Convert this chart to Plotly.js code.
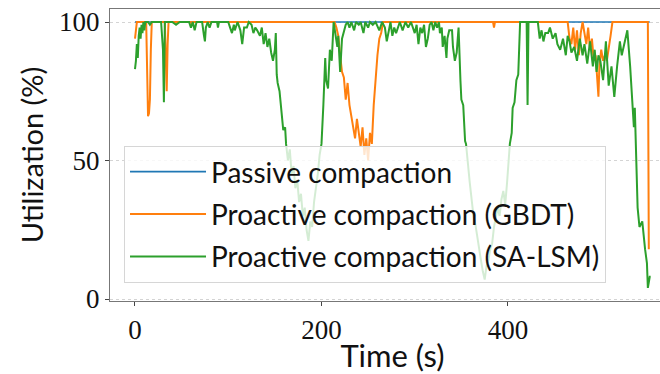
<!DOCTYPE html>
<html>
<head>
<meta charset="utf-8">
<script src="https://cdn.plot.ly/plotly-3.0.1.min.js"></script>
<style>
html, body { margin:0; padding:0; overflow:hidden; background:#fff; }
#chart { width:680px; height:374px; }
</style>
</head>
<body>
<div id="chart"></div>
<script>
// ---- data ----
const seriesNames = ["Passive compaction", "Proactive compaction (GBDT)", "Proactive compaction (SA-LSM)"];

const passiveTime = [0, 100, 200, 300, 400, 500, 552];
const passiveUtil = [100, 100, 100, 100, 100, 100, 100];

const gbdtTime = [0, 2, 12, 13, 14, 15, 16, 17, 18, 32, 33, 34, 35, 36, 60, 61, 62,
  214, 216, 218, 220, 222, 224, 226, 228, 230, 232, 234, 236, 238, 240, 242, 244, 246, 248, 250, 252, 254, 256, 258, 260, 262, 264, 266,
  384, 385, 386, 464, 466, 468, 470, 472, 474, 476, 478, 480, 484, 486, 488, 490, 492, 494, 496, 497, 498, 500, 502, 504, 506, 508, 510, 512,
  550, 551];
const gbdtUtil = [94, 100, 100, 85, 66, 67, 72, 90, 100, 100, 85, 75, 92, 100, 100, 99, 100,
  100, 98, 95, 88, 82, 80, 72, 78, 70, 66, 62, 58, 65, 60, 55, 62, 52, 58, 50, 60, 56, 70, 80, 88, 94, 96, 100,
  100, 98, 100, 100, 94, 92, 98, 90, 97, 88, 96, 100, 92, 98, 90, 94, 86, 88, 80, 73, 84, 90, 86, 88, 86, 90, 95, 100,
  100, 18];

const salsmTime = [0, 1, 2, 3, 4, 5, 6, 7, 8, 9, 10, 11, 14, 16, 18, 28, 30, 31, 32, 40, 44, 48, 58, 60, 62, 64, 66, 72, 74, 75, 76, 78, 80, 82, 88, 89, 90,
  100, 102, 104, 106, 107, 110, 113, 115, 117, 120, 122, 125, 127, 129, 131, 134, 136, 138, 140, 142, 144, 146, 148, 150, 151, 152, 153, 155, 157, 159, 161,
  162, 164, 166, 168, 170, 172, 174, 176, 178, 180, 182, 184, 186, 188, 190, 192, 194, 196, 198, 200, 202, 204, 205, 207, 209, 211, 213, 215, 217, 218, 220,
  222, 224, 226, 228, 230, 232, 235, 237, 240, 242, 245, 247, 250, 252, 255, 258, 262, 265, 268, 270, 272, 274, 276, 278, 280, 282, 284, 287, 290, 293, 296,
  300, 302, 304, 306, 308, 310, 312, 314, 316, 318, 320, 322, 324, 326, 327, 329, 330, 332, 334, 335, 337, 340, 341, 343, 345, 347, 349, 350, 352, 354,
  355, 357, 359, 361, 363, 365, 367, 369, 371, 373, 375, 377, 379, 381, 383, 385, 387, 389, 391, 393, 395, 397, 399, 401, 402, 404, 405, 407, 409, 411, 413,
  420, 421, 422, 432, 434, 436, 438, 440, 443, 445, 448, 451, 453, 456, 459, 462, 464, 466, 468, 471, 474, 477, 480, 482, 485, 488, 491, 493, 495, 497, 499,
  502, 505, 508, 511, 514, 517, 520, 522, 525, 528, 531, 533, 535, 536, 537, 538, 539, 541, 544, 547, 549, 550, 552, 553];
const salsmUtil = [83, 86, 92, 87, 95, 98, 94, 99, 96, 100, 97, 100, 100, 99, 100, 100, 90, 71, 100, 100, 99, 100, 100, 98, 100, 97, 100, 100, 95, 93, 98, 100, 98, 100, 100, 98, 100,
  100, 98, 96, 99, 97, 100, 97, 92, 98, 98, 100, 99, 96, 98, 97, 95, 98, 92, 96, 91, 94, 89, 86, 90, 96, 81, 78, 75, 67, 61, 62,
  56, 50, 54, 45, 48, 40, 43, 35, 38, 30, 33, 25, 21, 28, 26, 35, 40, 45, 52, 56, 70, 87, 79, 76, 90, 86, 100, 96, 91, 95, 82,
  94, 97, 99, 100, 98, 100, 97, 100, 99, 100, 96, 100, 98, 100, 99, 100, 97, 100, 98, 93, 97, 100, 95, 98, 96, 98, 100, 97, 100, 98, 100,
  96, 99, 92, 98, 96, 99, 91, 94, 99, 100, 97, 100, 98, 100, 96, 98, 91, 95, 87, 94, 97, 97, 91, 86, 89, 98, 79, 72, 70, 57,
  56, 48, 42, 36, 30, 27, 22, 18, 14, 10, 7, 12, 14, 18, 20, 26, 30, 33, 30, 36, 39, 34, 42, 50, 56, 60, 69, 71, 79, 81, 100,
  100, 70, 100, 100, 94, 97, 93, 96, 96, 98, 94, 96, 92, 90, 94, 88, 95, 93, 89, 91, 86, 94, 88, 92, 85, 93, 84, 90, 82, 88, 86,
  79, 93, 77, 84, 73, 84, 93, 88, 93, 97, 84, 71, 62, 69, 54, 50, 33, 26, 28, 18, 13, 4, 8, 8];

const xTicks = [0, 200, 400];
const yTicks = [0, 50, 100];

const colors = ["#1f77b4", "#ff7f0e", "#2ca02c"];

const traces = [
  {x: passiveTime, y: passiveUtil, name: seriesNames[0], legendgroup: "a", type: "scatter", mode: "lines", line: {color: colors[0], width: 1.6}},
  {x: gbdtTime, y: gbdtUtil, name: seriesNames[1], legendgroup: "b", type: "scatter", mode: "lines", line: {color: colors[1], width: 2}},
  {x: salsmTime, y: salsmUtil, name: seriesNames[2], legendgroup: "c", type: "scatter", mode: "lines", line: {color: colors[2], width: 2}}
];

const sans = "Lato, 'Open Sans', sans-serif";
const serif = "'Liberation Serif', 'DejaVu Serif', serif";

const layout = {
  width: 680, height: 374,
  margin: {l: 110, r: 5, t: 9, b: 73, pad: 0},
  paper_bgcolor: "#fff", plot_bgcolor: "#fff",
  showlegend: true,
  legend: {
    x: 0.0248, y: 0.531, xanchor: "left", yanchor: "top",
    bgcolor: "rgba(255,255,255,0.8)", bordercolor: "#d6d6d6", borderwidth: 1,
    font: {family: sans, size: 28, color: "#111"},
    tracegroupgap: 3, traceorder: "grouped", itemwidth: 76
  },
  xaxis: {
    range: [-26.8, 579.1], tickvals: xTicks, ticktext: xTicks.map(String),
    ticks: "outside", ticklen: 4, tickwidth: 1, tickcolor: "#444",
    showline: true, mirror: true, linecolor: "#777", linewidth: 1.2,
    showgrid: false, zeroline: false,
    tickfont: {family: serif, size: 27, color: "#111"},
    title: {text: "Time (s)", font: {family: sans, size: 31, color: "#111"}, standoff: 2}
  },
  yaxis: {
    range: [-0.72, 104.7], tickvals: yTicks, ticktext: yTicks.map(String),
    ticks: "outside", ticklen: 4, tickwidth: 1, tickcolor: "#444",
    showline: true, mirror: true, linecolor: "#777", linewidth: 1.2,
    showgrid: true, gridcolor: "#d4d4d4", griddash: "dot", gridwidth: 1,
    zeroline: false,
    tickfont: {family: serif, size: 27, color: "#111"},
    title: {text: "Utilization (%)", font: {family: sans, size: 29, color: "#111"}, standoff: 6}
  }
};

Plotly.newPlot("chart", traces, layout, {displayModeBar: false, staticPlot: true});
</script>
</body>
</html>
